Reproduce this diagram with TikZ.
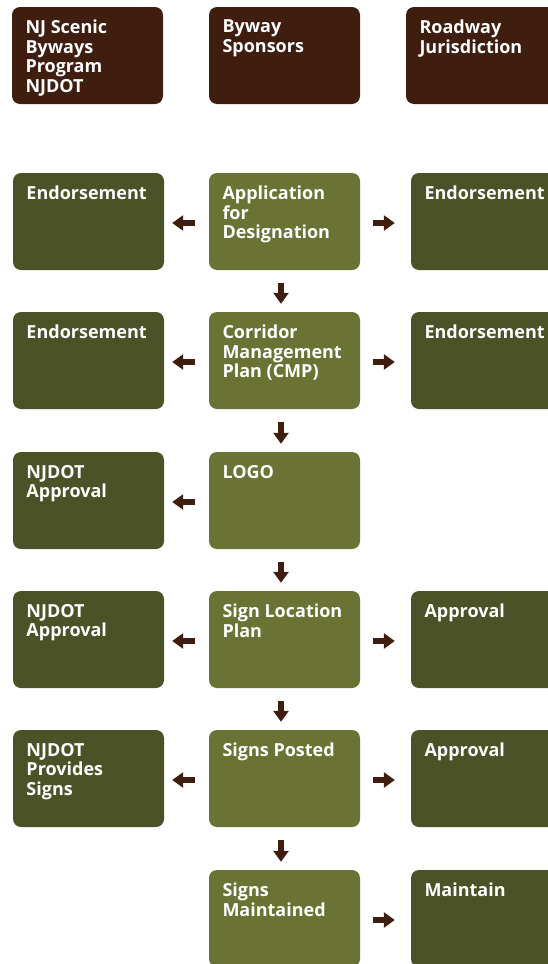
\documentclass[tikz,border=0pt]{standalone}
\usepackage{fontspec}
\setmainfont{Open Sans}
\usetikzlibrary{arrows.meta}
\definecolor{bywaybrown}{HTML}{3F1E10}
\definecolor{darkgreen}{HTML}{4B5228}
\definecolor{lightgreen}{HTML}{6A7333}

\begin{document}
\begin{tikzpicture}[x=1pt, y=-1pt,
  box/.style={rounded corners=8pt, minimum width=151pt, minimum height=97pt, inner sep=0pt},
  lbl/.style={anchor=north west, inner sep=0pt, text=white, align=left,
    font=\bfseries\fontsize{18}{19.5}\selectfont, xshift=13.5pt, yshift=-13pt},
  party/.style={box, fill=bywaybrown},
  stage/.style={box, fill=lightgreen},
  answer/.style={box, fill=darkgreen},
  arr/.style={line width=5.5pt, bywaybrown, -{Triangle[length=11pt, width=15pt]}}]

\useasboundingbox (0,0) rectangle (548,964);
\clip (0,0) rectangle (548,964);

% column heads
\node[party, label={[lbl]north west:NJ Scenic\\Byways\\Program\\NJDOT}] (njdot) at (87.5,55.5) {};
\node[party, label={[lbl]north west:Byway\\Sponsors}] (sponsors) at (284.5,55.5) {};
\node[party, label={[lbl]north west:Roadway\\Jurisdiction}] (roadway) at (481.5,55.5) {};

% sponsor steps
\node[stage, label={[lbl]north west:Application\\for\\Designation}] (appl) at (284.5,221.5) {};
\node[stage, label={[lbl]north west:Corridor\\Management\\Plan (CMP)}] (cmp) at (284.5,360.5) {};
\node[stage, label={[lbl]north west:LOGO}] (logo) at (284.5,500.5) {};
\node[stage, label={[lbl]north west:Sign Location\\Plan}] (slp) at (284.5,639.5) {};
\node[stage, label={[lbl]north west:Signs Posted}] (posted) at (284.5,778.5) {};
\node[stage, label={[lbl]north west:Signs\\Maintained}] (maint) at (284.5,918.5) {};

% NJDOT side
\node[answer, label={[lbl]north west:Endorsement}] (endL1) at (88.5,221.5) {};
\node[answer, label={[lbl]north west:Endorsement}] (endL2) at (88.5,360.5) {};
\node[answer, label={[lbl]north west:NJDOT\\Approval}] (apprL1) at (88.5,500.5) {};
\node[answer, label={[lbl]north west:NJDOT\\Approval}] (apprL2) at (88.5,639.5) {};
\node[answer, label={[lbl]north west:NJDOT\\Provides\\Signs}] (signsL) at (88.5,778.5) {};

% roadway side
\node[answer, label={[lbl]north west:Endorsement}] (endR1) at (486.5,221.5) {};
\node[answer, label={[lbl]north west:Endorsement}] (endR2) at (486.5,360.5) {};
\node[answer, label={[lbl]north west:Approval}] (apprR1) at (486.5,639.5) {};
\node[answer, label={[lbl]north west:Approval}] (apprR2) at (486.5,778.5) {};
\node[answer, label={[lbl]north west:Maintain}] (maintR) at (486.5,918.5) {};

% down the middle
\draw[arr, shorten <=13pt, shorten >=8pt] ([xshift=-3.5pt]appl.south) -- ([xshift=-3.5pt]cmp.north);
\draw[arr, shorten <=13pt, shorten >=8pt] ([xshift=-3.5pt]cmp.south) -- ([xshift=-3.5pt]logo.north);
\draw[arr, shorten <=13pt, shorten >=8pt] ([xshift=-3.5pt]logo.south) -- ([xshift=-3.5pt]slp.north);
\draw[arr, shorten <=13pt, shorten >=8pt] ([xshift=-3.5pt]slp.south) -- ([xshift=-3.5pt]posted.north);
\draw[arr, shorten <=13pt, shorten >=8pt] ([xshift=-3.5pt]posted.south) -- ([xshift=-3.5pt]maint.north);

% to the left
\draw[arr, shorten <=14pt, shorten >=8pt] ([yshift=-1.5pt]appl.west) -- ([yshift=-1.5pt]endL1.east);
\draw[arr, shorten <=14pt, shorten >=8pt] ([yshift=-1.5pt]cmp.west) -- ([yshift=-1.5pt]endL2.east);
\draw[arr, shorten <=14pt, shorten >=8pt] ([yshift=-1.5pt]logo.west) -- ([yshift=-1.5pt]apprL1.east);
\draw[arr, shorten <=14pt, shorten >=8pt] ([yshift=-1.5pt]slp.west) -- ([yshift=-1.5pt]apprL2.east);
\draw[arr, shorten <=14pt, shorten >=8pt] ([yshift=-1.5pt]posted.west) -- ([yshift=-1.5pt]signsL.east);

% to the right
\draw[arr, shorten <=13pt, shorten >=16pt] ([yshift=-1.5pt]appl.east) -- ([yshift=-1.5pt]endR1.west);
\draw[arr, shorten <=13pt, shorten >=16pt] ([yshift=-1.5pt]cmp.east) -- ([yshift=-1.5pt]endR2.west);
\draw[arr, shorten <=13pt, shorten >=16pt] ([yshift=-1.5pt]slp.east) -- ([yshift=-1.5pt]apprR1.west);
\draw[arr, shorten <=13pt, shorten >=16pt] ([yshift=-1.5pt]posted.east) -- ([yshift=-1.5pt]apprR2.west);
\draw[arr, shorten <=13pt, shorten >=16pt] ([yshift=-1.5pt]maint.east) -- ([yshift=-1.5pt]maintR.west);
\end{tikzpicture}
\end{document}
